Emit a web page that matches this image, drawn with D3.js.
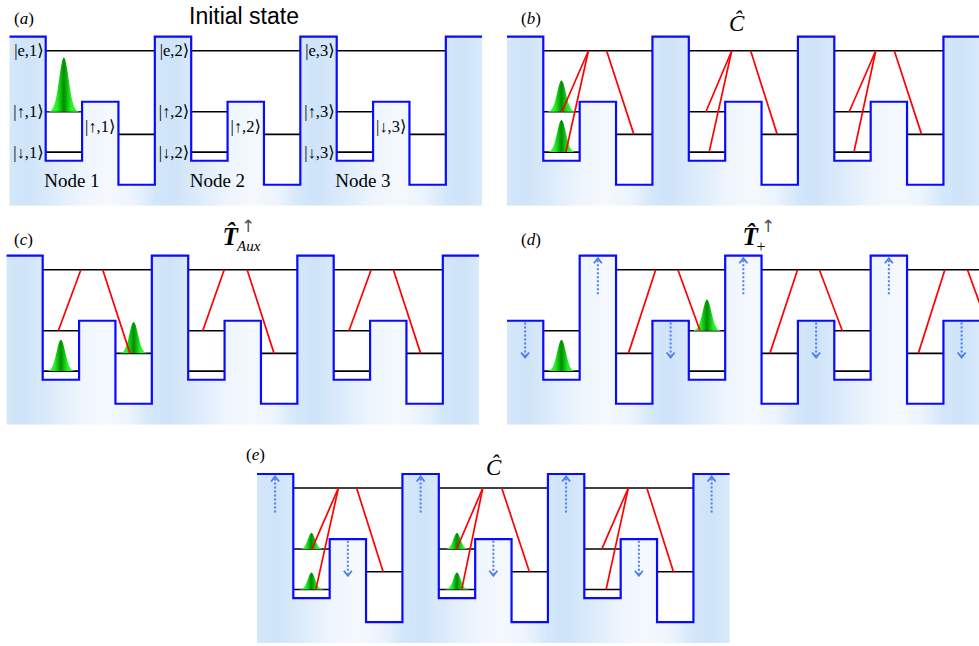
<!DOCTYPE html>
<html><head><meta charset="utf-8">
<script src="https://cdn.jsdelivr.net/npm/d3@7"></script>
<style>body{margin:0;background:#fff} svg{display:block}</style>
</head><body>
<svg id="chart" width="979" height="646"></svg>
<script>
// ---------------- data ----------------
const nodes = [1, 2, 3];
const siteKinds = ["wellA", "bar1", "deep", "bar2"];
const potentialStandard = [2.66, 6.15, 1.24, 10];   // energy of each site kind
const potentialShifted  = [2.66, 10, 1.24, 6.15];   // panel (d): barriers swapped
const levelNames = ["e", "up", "down", "aux"];
const levelEnergy = {e: 9.17, up: 5.56, down: 3.17, aux: 4.22};
const ketPrefix = {e: "|e,", up: "|\u2191,", down: "|\u2193,"};
const barrierKets = ["|\u2191,1\u27E9", "|\u2191,2\u27E9", "|\u2193,3\u27E9"];
const nodeLabels = ["Node 1", "Node 2", "Node 3"];
const panelLetters = ["a", "b", "c", "d", "e"];
// wave packets: [panel, node, level, amplitude (energy units), width (sites)]
const packets = [
  ["a", 1, "up", 3.2, 0.13],
  ["b", 1, "up", 1.85, 0.12], ["b", 1, "down", 1.9, 0.12],
  ["c", 1, "down", 1.85, 0.12], ["c", 1, "aux", 1.85, 0.12],
  ["d", 1, "down", 1.85, 0.12], ["d", 2, "up", 1.85, 0.12],
  ["e", 1, "up", 0.95, 0.1], ["e", 1, "down", 1.0, 0.1],
  ["e", 2, "up", 0.95, 0.1], ["e", 2, "down", 1.0, 0.1]
];
// couplings: [panel, node, site on e-level, target level, target site]
const couplings = [
  ["b",1,1.24,"up",0.51],["b",1,1.24,"down",0.62],["b",1,1.74,"aux",2.49],
  ["b",2,1.18,"up",0.47],["b",2,1.18,"down",0.56],["b",2,1.70,"aux",2.43],
  ["b",3,1.14,"up",0.41],["b",3,1.14,"down",0.54],["b",3,1.65,"aux",2.40],
  ["c",1,1.05,"up",0.43],["c",1,1.65,"aux",2.40],
  ["c",2,0.99,"up",0.40],["c",2,1.62,"aux",2.36],
  ["c",3,1.03,"up",0.42],["c",3,1.64,"aux",2.39],
  ["d",1,3.09,"aux",2.34],["d",1,3.70,"up",4.31],
  ["d",2,2.99,"aux",2.23],["d",2,3.59,"up",4.22],
  ["d",3,3.04,"aux",2.31],["d",3,3.66,"up",4.27],
  ["e",1,1.24,"up",0.51],["e",1,1.24,"down",0.62],["e",1,1.74,"aux",2.47],
  ["e",2,1.21,"up",0.49],["e",2,1.21,"down",0.63],["e",2,1.73,"aux",2.49],
  ["e",3,1.21,"up",0.48],["e",3,1.21,"down",0.60],["e",3,1.72,"aux",2.45]
];
// potential modulation arrows: [panel, site, direction]
const arrows = [
  ["d",1.5,"up"],["d",5.5,"up"],["d",9.5,"up"],
  ["d",-0.5,"down"],["d",3.5,"down"],["d",7.5,"down"],["d",11.5,"down"],
  ["e",-0.5,"up"],["e",3.5,"up"],["e",7.5,"up"],["e",11.5,"up"],
  ["e",1.5,"down"],["e",5.5,"down"],["e",9.5,"down"]
];
const arrowSpan = {up: [7.72, 9.85], down: [6.05, 3.98]};

// ---------------- layout ----------------
const layout = {
  a: {x0: 45.7, top: 36.7}, b: {x0: 543.3, top: 36.7},
  c: {x0: 42.7, top: 255.7}, d: {x0: 543.3, top: 255.7},
  e: {x0: 293.3, top: 474}
};
const SITE = 36.375, DEPTH = 169;
const serif = "'Liberation Serif','DejaVu Serif','Times New Roman',serif";

const svg = d3.select("#chart");
const defs = svg.append("defs");
const pg = defs.append("linearGradient").attr("id", "packet")
  .attr("x1", 0).attr("x2", 1).attr("y1", 0).attr("y2", 0);
[[0,"#66ff66"],[0.32,"#22f022"],[0.5,"#008c00"],[0.68,"#22f022"],[1,"#66ff66"]]
  .forEach(([o,c]) => pg.append("stop").attr("offset", o).attr("stop-color", c));

const scales = {};
panelLetters.forEach(p => {
  const L = layout[p];
  const x = d3.scaleLinear().domain([0, 4]).range([L.x0, L.x0 + 4 * SITE]);
  const y = d3.scaleLinear().domain([0, 10]).range([L.top + DEPTH, L.top]);
  scales[p] = {x, y};
  const pot = p === "d" ? potentialShifted : potentialStandard;
  const V = s => pot[((s % 4) + 4) % 4];
  const sites = d3.range(-1, 12);

  // background gradient
  const bg = defs.append("linearGradient").attr("id", "bg-" + p)
    .attr("gradientUnits", "userSpaceOnUse").attr("spreadMethod", "repeat")
    .attr("x1", x(-1)).attr("x2", x(3)).attr("y1", 0).attr("y2", 0);
  [[0,"#d4e7fa"],[0.125,"#cfe4f9"],[0.3,"#dcebfb"],[0.5,"#eef5fd"],
   [0.68,"#f5f9fe"],[0.85,"#ecf4fd"],[1,"#d4e7fa"]]
    .forEach(([o,c]) => bg.append("stop").attr("offset", o).attr("stop-color", c));

  defs.append("clipPath").attr("id", "clip-" + p).append("rect")
    .attr("x", x(-1)).attr("y", L.top - 3)
    .attr("width", Math.min(979, x(12)) - x(-1)).attr("height", DEPTH + 3);

  const g = svg.append("g").attr("clip-path", `url(#clip-${p})`);

  const line = d3.path();
  line.moveTo(x(-1), y(V(-1)));
  sites.forEach(s => { line.lineTo(x(s), y(V(s))); line.lineTo(x(s + 1), y(V(s))); });
  const fill = d3.path();
  fill.moveTo(x(-1), y(V(-1)));
  sites.forEach(s => { fill.lineTo(x(s), y(V(s))); fill.lineTo(x(s + 1), y(V(s))); });
  fill.lineTo(x(12), y(0)); fill.lineTo(x(-1), y(0)); fill.closePath();
  g.append("path").attr("d", fill.toString()).attr("fill", `url(#bg-${p})`);

  // energy levels
  nodes.forEach(n => {
    const b = 4 * (n - 1);
    const spans = p === "d"
      ? {e: [b + 2, Math.min(12, b + 5)], up: [b, b + 1], down: [b, b + 1], aux: [b + 2, b + 3]}
      : {e: [b, b + 3], up: [b, b + 1], down: [b, b + 1], aux: [b + 2, b + 3]};
    levelNames.forEach(lv => {
      g.append("line").attr("x1", x(spans[lv][0])).attr("x2", x(spans[lv][1]))
        .attr("y1", y(levelEnergy[lv])).attr("y2", y(levelEnergy[lv]))
        .attr("stroke", "#000").attr("stroke-width", 1.6);
    });
  });

  // wave packets
  const curve = d3.line().curve(d3.curveBasis);
  packets.filter(d => d[0] === p).forEach(([, n, lv, amp, w]) => {
    const c = 4 * (n - 1) + (lv === "aux" ? 2.5 : 0.5);
    const base = y(levelEnergy[lv]);
    const hpx = y(0) - y(amp);
    const pts = d3.range(-4, 4.001, 0.1).map(t => [x(c + t * w), base - hpx * Math.exp(-t * t / 2)]);
    g.append("path").attr("d", curve(pts) + "Z").attr("fill", "url(#packet)");
  });

  // couplings
  couplings.filter(d => d[0] === p).forEach(([, n, es, lv, ts]) => {
    const b = 4 * (n - 1);
    g.append("line").attr("x1", x(b + es)).attr("y1", y(levelEnergy.e))
      .attr("x2", x(b + ts)).attr("y2", y(levelEnergy[lv]))
      .attr("stroke", "#ff0000").attr("stroke-width", 1.7);
  });

  g.append("path").attr("d", line.toString()).attr("fill", "none")
    .attr("stroke", "#0a0aff").attr("stroke-width", 2.2);

  // modulation arrows
  arrows.filter(d => d[0] === p).forEach(([, s, dir]) => {
    const [e0, e1] = arrowSpan[dir];
    const cx = x(s), ys = y(e0), yt = y(e1);
    const sgn = dir === "up" ? 1 : -1;
    g.append("line").attr("x1", cx).attr("x2", cx).attr("y1", ys).attr("y2", yt + sgn * 2)
      .attr("stroke", "#4a7cf0").attr("stroke-width", 2).attr("stroke-dasharray", "2,2");
    g.append("path").attr("d", `M${cx - 4},${yt + sgn * 5}L${cx},${yt}L${cx + 4},${yt + sgn * 5}`)
      .attr("fill", "none").attr("stroke", "#4a7cf0").attr("stroke-width", 1.8);
  });
});

// ---------------- labels of panel (a) ----------------
{
  const {x, y} = scales.a;
  nodes.forEach((n, i) => {
    const b = 4 * (n - 1);
    ["e", "up", "down"].forEach(lv => {
      svg.append("text").attr("x", x(b) - 2).attr("y", y(levelEnergy[lv]))
        .attr("text-anchor", "end").attr("dominant-baseline", "central")
        .attr("font-family", serif).attr("font-size", 16.5)
        .text(ketPrefix[lv] + n + "\u27E9");
    });
    svg.append("text").attr("x", x(b + 1.5)).attr("y", y(4.66))
      .attr("text-anchor", "middle").attr("dominant-baseline", "central")
      .attr("font-family", serif).attr("font-size", 16.5).text(barrierKets[i]);
    svg.append("text").attr("x", x(b + 0.72)).attr("y", y(1.12))
      .attr("text-anchor", "middle").attr("font-family", serif).attr("font-size", 19)
      .text(nodeLabels[i]);
  });
}

// ---------------- panel letters & titles ----------------
const letterPos = {a: [14, 23.5], b: [521, 23.5], c: [14, 245], d: [521, 245], e: [246, 460]};
panelLetters.forEach(p => {
  const t = svg.append("text").attr("x", letterPos[p][0]).attr("y", letterPos[p][1])
    .attr("font-family", serif).attr("font-size", 17);
  t.append("tspan").text("(");
  t.append("tspan").attr("font-style", "italic").text(p);
  t.append("tspan").text(")");
});

svg.append("text").attr("x", 189).attr("y", 24)
  .attr("font-family", "'Liberation Sans',Arial,sans-serif").attr("font-size", 23)
  .text("Initial state");

[[729, 30.5], [486, 474.5]].forEach(([tx, ty]) => {
  svg.append("text").attr("x", tx).attr("y", ty).attr("font-family", serif)
    .attr("font-style", "italic").attr("font-size", 23).text("\u0108");
});

// operator T-hat with superscript arrow and subscript
function tOperator(tx, ty, sub, subItalic, subDx, subSize) {
  svg.append("text").attr("x", tx).attr("y", ty).attr("font-family", serif)
    .attr("font-style", "italic").attr("font-weight", "bold").attr("font-size", 25)
    .text("T\u0302");
  svg.append("text").attr("x", tx + 18.5).attr("y", ty - 13)
    .attr("font-family", "'DejaVu Sans',sans-serif").attr("font-size", 17)
    .attr("fill", "#555").text("\u2191");
  svg.append("text").attr("x", tx + subDx).attr("y", ty + 6.5).attr("font-family", serif)
    .attr("font-style", subItalic ? "italic" : "normal").attr("font-size", subSize).text(sub);
}
tOperator(222.5, 244.5, "Aux", true, 14.5, 15);
tOperator(742.5, 245, "+", false, 14, 16);
</script>
</body></html>
